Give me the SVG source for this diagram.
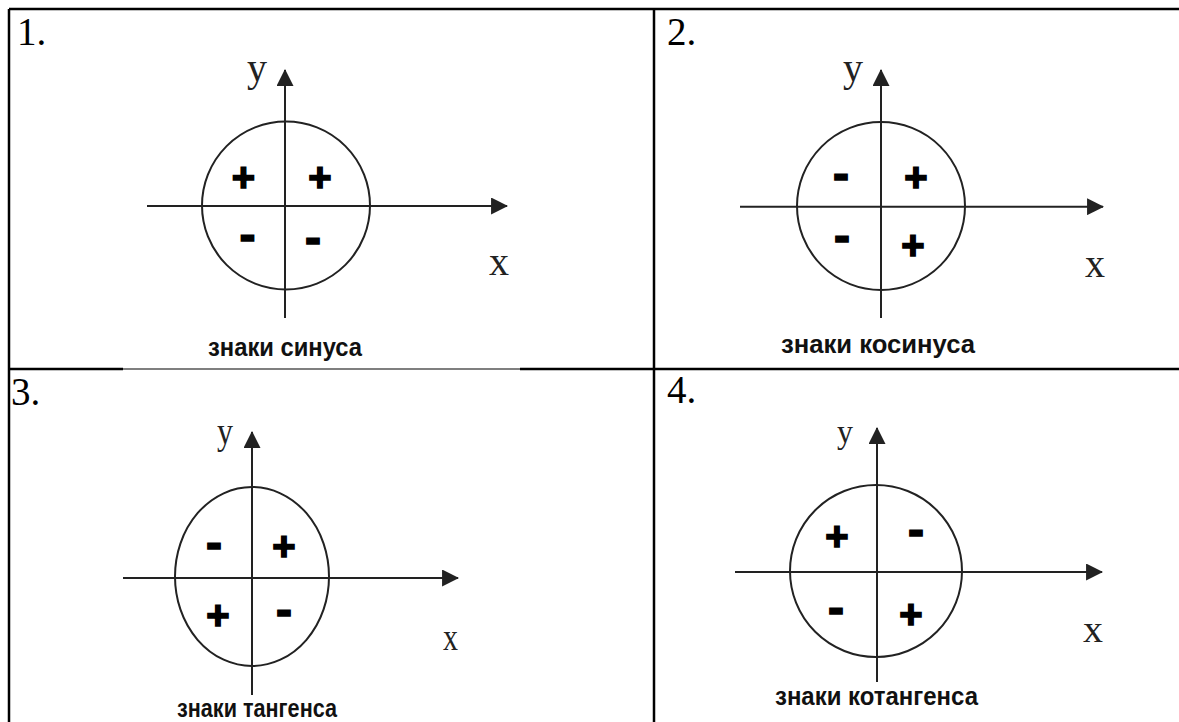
<svg xmlns="http://www.w3.org/2000/svg" width="1179" height="722" viewBox="0 0 1179 722">
<defs>
<style>
.ax{stroke:#222;stroke-width:2;fill:none}
.circ{stroke:#222;stroke-width:2;fill:none}
.grid{stroke:#000;stroke-width:2.5;fill:none}
.thin{stroke:#000;stroke-width:1.2}
.num{font-family:"Liberation Serif","Times New Roman",serif;font-size:39px;fill:#000}
.lbl{font-family:"Liberation Serif","Times New Roman",serif;fill:#222}
.sg{font-family:"Liberation Sans",Arial,sans-serif;font-weight:bold;fill:#000;stroke:#000;stroke-width:1.6;text-anchor:middle}
.pl{font-size:40px}
.mi{font-size:48px}
.cap{font-family:"Liberation Sans",Arial,sans-serif;font-weight:bold;font-size:26px;fill:#111}
</style>
<marker id="ah" viewBox="0 0 16 16" refX="15" refY="8" markerWidth="17" markerHeight="17" markerUnits="userSpaceOnUse" orient="auto"><path d="M0,0 L16,8 L0,16 Z" fill="#222"/></marker>
</defs>
<rect width="1179" height="722" fill="#fff"/>
<g id="table">
<line class="grid" x1="9" y1="9" x2="1179" y2="9"/>
<line class="grid" x1="9" y1="9" x2="9" y2="722"/>
<line class="grid" x1="654" y1="9" x2="654" y2="722"/>
<line class="grid" x1="9" y1="369" x2="123" y2="369"/>
<line class="thin" x1="123" y1="369" x2="520" y2="369"/>
<line class="grid" x1="520" y1="369" x2="1179" y2="369"/>
</g>
<g id="panel1">
<text class="num" x="17" y="45">1.</text>
<circle class="circ" cx="286" cy="205.5" r="84"/>
<text class="lbl" x="247" y="81" font-size="40">y</text>
<text class="lbl" x="489" y="275" font-size="40">x</text>
<text class="sg pl" x="243.5" y="190.5">+</text>
<text class="sg pl" x="320" y="190.5">+</text>
<text class="sg mi" x="247.5" y="251">-</text>
<text class="sg mi" x="313" y="254">-</text>
<text class="cap" x="208" y="356" textLength="154" lengthAdjust="spacingAndGlyphs">знаки синуса</text>
</g>
<g id="panel2">
<text class="num" x="667" y="45">2.</text>
<circle class="circ" cx="881" cy="206" r="84"/>
<text class="lbl" x="843" y="81" font-size="40">y</text>
<text class="lbl" x="1085" y="277" font-size="40">x</text>
<text class="sg mi" x="841" y="189.5">-</text>
<text class="sg pl" x="916" y="191">+</text>
<text class="sg mi" x="842" y="251.5">-</text>
<text class="sg pl" x="913" y="259">+</text>
<text class="cap" x="781" y="353" textLength="194" lengthAdjust="spacingAndGlyphs">знаки косинуса</text>
</g>
<g id="panel3">
<text class="num" x="11" y="405">3.</text>
<ellipse class="circ" cx="252" cy="576.5" rx="77" ry="89.5"/>
<text class="lbl" x="217" y="444" font-size="37" textLength="16" lengthAdjust="spacingAndGlyphs">y</text>
<text class="lbl" x="443" y="650" font-size="37" textLength="15" lengthAdjust="spacingAndGlyphs">x</text>
<text class="sg mi" x="214" y="558.5">-</text>
<text class="sg pl" x="284" y="560">+</text>
<text class="sg pl" x="218" y="629">+</text>
<text class="sg mi" x="284" y="625.5">-</text>
<text class="cap" x="177" y="717" textLength="160" lengthAdjust="spacingAndGlyphs">знаки тангенса</text>
</g>
<g id="panel4">
<text class="num" x="667" y="403">4.</text>
<circle class="circ" cx="876" cy="571" r="86"/>
<text class="lbl" x="837" y="443" font-size="34" textLength="16" lengthAdjust="spacingAndGlyphs">y</text>
<text class="lbl" x="1083" y="642" font-size="37" textLength="20" lengthAdjust="spacingAndGlyphs">x</text>
<text class="sg pl" x="837" y="550">+</text>
<text class="sg mi" x="916" y="545.5">-</text>
<text class="sg mi" x="836" y="623.5">-</text>
<text class="sg pl" x="911" y="628">+</text>
<text class="cap" x="775" y="705" textLength="203" lengthAdjust="spacingAndGlyphs">знаки котангенса</text>
</g>
<g id="connectors">
<line class="ax" x1="147" y1="206" x2="507" y2="206" marker-end="url(#ah)"/>
<line class="ax" x1="285" y1="318" x2="285" y2="70" marker-end="url(#ah)"/>
<line class="ax" x1="740" y1="206.7" x2="1103" y2="206.7" marker-end="url(#ah)"/>
<line class="ax" x1="881" y1="318" x2="881" y2="70" marker-end="url(#ah)"/>
<line class="ax" x1="123" y1="578" x2="458" y2="578" marker-end="url(#ah)"/>
<line class="ax" x1="252" y1="695" x2="252" y2="432" marker-end="url(#ah)"/>
<line class="ax" x1="735" y1="572" x2="1102" y2="572" marker-end="url(#ah)"/>
<line class="ax" x1="877" y1="682" x2="877" y2="428" marker-end="url(#ah)"/>
</g>
</svg>
